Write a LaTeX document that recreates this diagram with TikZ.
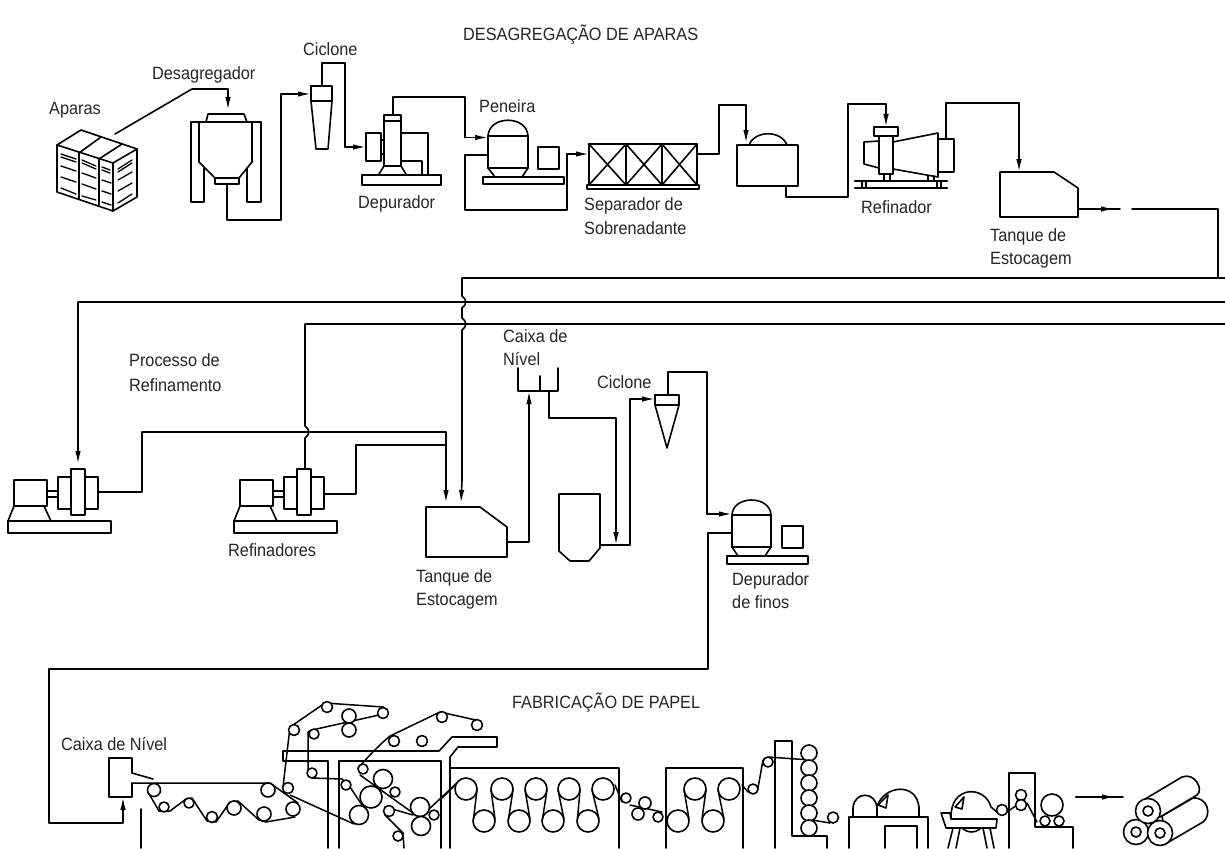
\documentclass[tikz,border=0pt]{standalone}
\usepackage{fontspec}
\setmainfont{Liberation Sans}
\usetikzlibrary{arrows.meta}
\tikzset{
  eq/.style={line width=1.6pt,line join=round,line cap=round},
  thin eq/.style={line width=1.3pt,line cap=round},
  pipe/.style={line width=1.6pt,line join=round,line cap=round},
  flow/.style={pipe,-{Latex[length=13pt,width=5.5pt]}},
  lbl/.style={anchor=base west,inner sep=0pt,font=\fontsize{17.8}{20}\selectfont,text=black!85,xscale=0.915,yshift=-0.7pt},
  rollc/.style={eq,draw,fill=white},
  wire/.style={line width=1.5pt,line join=round,line cap=round},
}
\newcommand{\roller}[3]{\draw[rollc] (#1,#2) circle (#3);}
\begin{document}
\begin{tikzpicture}[x=1pt,y=-1pt]
\useasboundingbox[fill=white] (0,0) rectangle (1225,848);

% ---------- labels ----------
\node[lbl] (t1) at (463,39.5) {DESAGREGAÇÃO DE APARAS};
\node[lbl] (t2) at (303,55) {Ciclone};
\node[lbl] (t3) at (152,79) {Desagregador};
\node[lbl] (t4) at (49,114) {Aparas};
\node[lbl] (t5) at (358,208) {Depurador};
\node[lbl] (t6) at (479,112) {Peneira};
\node[lbl] (t7) at (584,210) {Separador de};
\node[lbl] (t8) at (584,234) {Sobrenadante};
\node[lbl] (t9) at (861,213) {Refinador};
\node[lbl] (t10) at (990,241) {Tanque de};
\node[lbl] (t11) at (990,264) {Estocagem};
\node[lbl] (t12) at (129,366) {Processo de};
\node[lbl] (t13) at (129,391) {Refinamento};
\node[lbl] (t14) at (228,556) {Refinadores};
\node[lbl] (t15) at (416,582) {Tanque de};
\node[lbl] (t16) at (416,605) {Estocagem};
\node[lbl] (t17) at (503,342) {Caixa de};
\node[lbl] (t18) at (503,365) {Nível};
\node[lbl] (t19) at (597,388) {Ciclone};
\node[lbl] (t20) at (732,585) {Depurador};
\node[lbl] (t21) at (732,608) {de finos};
\node[lbl] (t22) at (61,750) {Caixa de Nível};
\node[lbl] (t23) at (512,708) {FABRICAÇÃO DE PAPEL};

% ---------- connector end points ----------
\coordinate (aparasOut) at (115,134);
\coordinate (desIn) at (228,110);
\coordinate (desOut) at (227,184);
\coordinate (cicIn) at (311,94);
\coordinate (cicOut) at (322,86);
\coordinate (depIn) at (366,147);
\coordinate (depOut) at (393,115);
\coordinate (penIn) at (488,137.5);
\coordinate (penOut) at (488,155);
\coordinate (sepIn) at (589,154);
\coordinate (sepOut) at (697,154);
\coordinate (tkIn) at (746,143);
\coordinate (tkOut) at (786,186);
\coordinate (refIn) at (886,127);
\coordinate (refOut) at (946,139);
\coordinate (tqIn) at (1019,172);
\coordinate (tqOut) at (1078,209);
\coordinate (tqTip) at (1114,209);
\coordinate (tqEnd) at (1120,209);
\coordinate (resume) at (1132,209);
\coordinate (busA) at (1218,278);
\coordinate (refAIn) at (78,464);
\coordinate (refAOut) at (98,492);
\coordinate (refBTop) at (305,469);
\coordinate (refBOut) at (324,494);
\coordinate (tq2InA) at (446,503);
\coordinate (tq2InB) at (461,503);
\coordinate (tq2Out) at (507,542);
\coordinate (cxIn) at (529,391);
\coordinate (cxOut) at (549,391);
\coordinate (bnIn) at (616,545);
\coordinate (bnOut) at (600,545);
\coordinate (cic2In) at (655,399);
\coordinate (cic2Out) at (668,395);
\coordinate (dfIn) at (732,514);
\coordinate (dfOut) at (732,533);
\coordinate (cnIn) at (123,797);
\coordinate (arrA) at (1076,797);
\coordinate (arrTip) at (1115,797);
\coordinate (arrB) at (1123,797);

% ---------- pipes ----------
\draw[pipe] (aparasOut) -- (192,89) -- (228,89);
\draw[flow] (228,89) -- (desIn);
\draw[pipe] (desOut) -- (227,220) -- (281,220) -- (281,94);
\draw[flow] (281,94) -- (cicIn);
\draw[pipe] (cicOut) -- (322,63) -- (345,63) -- (345,147);
\draw[flow] (345,147) -- (depIn);
\draw[pipe] (depOut) -- (393,97) -- (465,97) -- (465,137.5);
\draw[flow] (465,137.5) -- (penIn);
\draw[pipe] (penOut) -- (465,155) -- (465,210) -- (567,210) -- (567,154);
\draw[flow] (567,154) -- (sepIn);
\draw[pipe] (sepOut) -- (719,154) -- (719,105) -- (746,105);
\draw[flow] (746,105) -- (tkIn);
\draw[pipe] (tkOut) -- (786,197) -- (848,197) -- (848,104) -- (886,104);
\draw[flow] (886,104) -- (refIn);
\draw[pipe] (refOut) -- (946,103) -- (1019,103);
\draw[flow] (1019,103) -- (tqIn);
\draw[pipe] (tqOut) -- (tqEnd);
\draw[flow] (tqOut) -- (tqTip);
\draw[pipe] (resume) -- (1218,209) -- (busA);

\draw[line width=1.4pt] (462,278) -- (1225,278);
\draw[line width=1.4pt] (78,302) -- (1225,302);
\draw[line width=1.4pt] (305,324) -- (1225,324);
\draw[pipe] (78,302) -- (78,440);
\draw[flow] (78,440) -- (refAIn);
% vertical with hops
\draw[pipe] (462,278) -- (462,296) .. controls (467,299) and (467,305) .. (462,308) -- (462,318)
  .. controls (467,321) and (467,327) .. (462,330) -- (462,480);
\draw[flow] (462,480) -- (tq2InB);
\draw[pipe] (305,324) -- (305,426) .. controls (310,429) and (310,435) .. (305,438) -- (refBTop);
\draw[pipe] (refAOut) -- (142,492) -- (142,432) -- (446,432) -- (446,480);
\draw[flow] (446,480) -- (tq2InA);
\draw[pipe] (refBOut) -- (356,494) -- (356,445) -- (446,445);
\draw[pipe] (tq2Out) -- (529,542) -- (529,420);
\draw[flow] (529,420) -- (cxIn);
\draw[pipe] (cxOut) -- (549,418) -- (616,418) -- (616,520);
\draw[flow] (616,520) -- (bnIn);
\draw[pipe] (bnOut) -- (630,545) -- (630,399);
\draw[flow] (630,399) -- (cic2In);
\draw[pipe] (cic2Out) -- (668,372) -- (707,372) -- (707,514);
\draw[flow] (707,514) -- (dfIn);
\draw[pipe] (dfOut) -- (708,533) -- (708,669) -- (49,669) -- (49,823) -- (123,823) -- (123,810);
\draw[flow] (123,810) -- (cnIn);
\draw[pipe] (arrA) -- (arrB);
\draw[flow] (arrA) -- (arrTip);

% ---------- Aparas ----------
\draw[eq] (57,145) -- (81,130) -- (137,149) -- (113,163) -- cycle;
\draw[eq] (57,145) -- (57,192) -- (113,211) -- (137,197) -- (137,149);
\draw[eq] (113,163) -- (113,211);
\draw[eq] (79,153) -- (79,199) (99,159) -- (99,205);
\draw[eq] (79,153) -- (101,137) (99,159) -- (122,144);
\draw[thin eq] (61,154) -- (76,159) (61,157) -- (76,162) (61,166) -- (76,171) (61,177) -- (76,182) (61,188) -- (76,194);
\draw[thin eq] (82,160) -- (96,166) (82,163) -- (96,169) (82,173) -- (96,178) (82,184) -- (96,189) (82,196) -- (96,200);
\draw[thin eq] (102,167) -- (110,170) (102,170) -- (110,173) (102,180) -- (111,183) (102,191) -- (111,194) (102,202) -- (111,205);
\draw[thin eq] (118,169) -- (132,160) (118,172) -- (132,163) (118,180) -- (132,172) (118,191) -- (132,183) (118,203) -- (132,194);

% ---------- Desagregador ----------
\draw[eq] (199,162) -- (199,122) (252,122) -- (252,162);
\draw[eq] (204,168) -- (204,202) -- (191,202) -- (191,122) -- (261,122) -- (261,202) -- (247,202) -- (247,168);
\draw[eq] (199,162) -- (215,178) -- (239,178) -- (252,162);
\draw[eq] (206,122) -- (208,114) -- (244,114) -- (247,122);
\draw[eq] (215,178) rectangle (239,184);

% ---------- Ciclone ----------
\draw[eq] (311,86) rectangle (332,101);
\draw[eq] (311,101) -- (316,149) -- (328,149) -- (332,101);

% ---------- Depurador ----------
\draw[eq] (366,133) rectangle (381,161);
\draw[eq] (381,140) -- (384,140) (381,154) -- (384,154);
\draw[eq] (384,115) rectangle (401,166);
\draw[eq] (384,121) -- (401,121);
\draw[eq] (362,175) rectangle (441,185);
\draw[eq] (384,166) -- (379,174) (401,166) -- (406,174);
\draw[eq] (401,133) -- (428,133) -- (428,175) (401,161) -- (422,161) -- (422,175);

% ---------- Peneira ----------
\draw[eq] (488,168) -- (488,136) .. controls (489,115) and (527,115) .. (528,136) -- (528,168);
\draw[eq] (488,136) -- (528,136) (488,168) -- (528,168);
\draw[eq] (488,168) -- (495,177) (528,168) -- (522,177);
\draw[eq] (483,177) rectangle (564,184);
\draw[eq] (538,147) rectangle (559,169);

% ---------- Separador ----------
\draw[eq] (589,144) rectangle (697,185);
\draw[eq] (626,144) -- (626,185) (662,144) -- (662,185);
\draw[eq] (589,144) -- (626,185) (626,144) -- (589,185);
\draw[eq] (626,144) -- (662,185) (662,144) -- (626,185);
\draw[eq] (662,144) -- (697,185) (697,144) -- (662,185);
\draw[eq] (587,185) rectangle (699,189);

% ---------- Tanque intermedio ----------
\draw[eq] (737,145) rectangle (798,186);
\draw[eq] (749,145) .. controls (755,130) and (781,130) .. (787,145);

% ---------- Refinador ----------
\draw[eq] (874,127) rectangle (898,136);
\draw[eq] (879,136) rectangle (893,174);
\draw[eq] (879,141) -- (864,142) -- (864,164) -- (879,168);
\draw[eq] (893,142) -- (938,133) -- (938,177) -- (893,169);
\draw[eq] (938,139) rectangle (954,172);
\draw[eq] (884,174) -- (884,181) (890,174) -- (890,181);
\draw[eq] (928,176) -- (928,181) (934,176) -- (934,181);
\draw[line width=2.6pt,line cap=round] (855,181) -- (947,181) (855,188) -- (947,188);
\draw[thin eq] (862,181) -- (862,188) (866,181) -- (866,188) (937,181) -- (937,188) (941,181) -- (941,188);

% ---------- Tanque de estocagem ----------
\draw[eq] (1000,172) -- (1054,172) -- (1078,188) -- (1078,217) -- (1000,217) -- cycle;

% ---------- Refinadores ----------
\draw[eq] (14,480) rectangle (47,506);
\draw[eq] (14,506) -- (8,521) (44,506) -- (51,521);
\draw[eq] (8,521) rectangle (111,533);
\draw[eq] (47,491) -- (58,491) (47,497) -- (58,497);
\draw[eq] (58,477) rectangle (98,509);
\draw[eq,fill=white] (71,469) rectangle (85,515);
\draw[eq] (240,480) rectangle (273,506);
\draw[eq] (240,506) -- (234,521) (270,506) -- (277,521);
\draw[eq] (234,521) rectangle (337,533);
\draw[eq] (273,491) -- (284,491) (273,497) -- (284,497);
\draw[eq] (284,477) rectangle (324,509);
\draw[eq,fill=white] (297,469) rectangle (311,515);

% ---------- Tanque 2 ----------
\draw[eq] (426,507) -- (480,507) -- (507,527) -- (507,557) -- (426,557) -- cycle;

% ---------- Caixa de Nivel 1 ----------
\draw[eq] (518,368) -- (518,391) -- (558,391) -- (558,368);
\draw[eq] (540,376) -- (540,391);

% ---------- Tanque pequeno ----------
\draw[eq] (559,551) -- (559,494) -- (600,494) -- (600,548) -- (589,561) -- (570,561) -- cycle;

% ---------- Ciclone 2 ----------
\draw[eq] (655,395) rectangle (679,405);
\draw[eq] (655,405) -- (667,448) -- (679,405);

% ---------- Depurador de finos ----------
\draw[eq] (732,547) -- (732,515) .. controls (733,495) and (770,495) .. (771,515) -- (771,547);
\draw[eq] (732,515) -- (771,515) (732,547) -- (771,547);
\draw[eq] (732,547) -- (738,556) (771,547) -- (765,556);
\draw[eq] (727,556) rectangle (808,564);
\draw[eq] (782,526) rectangle (803,548);

% ---------- Caixa de Nivel 2 ----------
\draw[eq] (132,773) -- (132,758) -- (109,758) -- (109,797) -- (132,797) -- (132,783);
\draw[eq] (132,773) -- (153,779);
\draw[wire] (132,783) -- (270,783) -- (298,803);
\draw[eq] (141,809) -- (141,848);

% ---------- Formacao ----------
\draw[wire] (148,792) -- (159,811) -- (170,811) -- (186,799) -- (192,798) -- (207,821) -- (216,822) -- (230,802)
  -- (238,801) -- (259,820) -- (266,822) -- (295,817);
\draw[wire] (283,787) -- (290,727) -- (325,703) -- (383,707) -- (388,713) -- (312,730) -- (308,732) -- (308,773)
  -- (312,778) -- (342,779) -- (350,787) -- (362,805);
\draw[wire] (290,795) -- (354,824);
\draw[wire] (358,768) .. controls (368,757) and (378,746) .. (390,736) -- (440,712) -- (480,721);
\draw[wire] (360,775) -- (413,813);
\draw[wire] (385,807) -- (413,815);
\draw[wire] (385,815) -- (403,833) -- (404,848);
\draw[wire] (428,810) -- (458,782);
\draw[wire] (440,800) -- (457,783);

% ---------- Molduras ----------
\draw[eq] (328,848) -- (328,761) -- (283,761) -- (283,751) -- (439,751) -- (452,737) -- (497,737) -- (497,747) -- (458,747) -- (450,757) -- (450,848);
\draw[eq] (339,848) -- (339,761) -- (441,761) -- (441,848);
\draw[eq] (450,768) -- (619,768) -- (619,848);
\draw[eq] (666,848) -- (666,768) -- (743,768) -- (743,848);
\draw[eq] (775,848) -- (775,741) -- (792,741) -- (792,836) -- (827,836) -- (827,848);

% ---------- Rolos ----------
\foreach \x/\y/\r in {154/790/6.5,164/807/5,189/803/5,212/817/5.5,234/808/7,264/814/7,293/809/7,268/790/7,
  288/788/5.5,294/730/5.5,327/707/5.5,349/716/7,383/713/5.5,314/734/5,349/730/7,312/773/5,
  394/741/5.5,422/741/5.5,442/717/5.5,477/725/5.5,363/769/5,383/779/9.5,371/797/11,395/792/5,
  346/785/5,359/815/9.5,389/811/5.5,420/807/9.5,421/826/9.5,434/815/5,398/836/5}
  {\roller{\x}{\y}{\r}}

% ---------- Secadores ----------
\foreach \x in {466,502,536,569,603}{\roller{\x}{789}{11}}
\foreach \x in {484,519,553,588}{\roller{\x}{821}{11}}
\draw[wire] (477,790) -- (473.5,819) (495,819) -- (491,790)
  (513,790) -- (508.5,819) (530,819) -- (525,790)
  (547,790) -- (542.5,819) (564,819) -- (558,790)
  (580,790) -- (577.5,819) (599,819) -- (592,790);

\draw[wire] (615,785) -- (622,802);
\draw[wire] (630,805) -- (662,812);
\roller{626}{798}{5}
\roller{645}{803}{6}
\roller{638}{814}{6}
\roller{658}{817}{5}

\foreach \x in {695,729}{\roller{\x}{789}{11}}
\foreach \x in {678,713}{\roller{\x}{821}{11}}
\draw[wire] (684,790) -- (689,819) (706,790) -- (702,819) (724,819) -- (718,790);

\draw[wire] (742,785) -- (748,792) (758,788) -- (763,760) (768,757) -- (810,760) (812,820) -- (830,823);
\roller{753}{789}{5}
\roller{768}{762}{5}
\foreach \y in {753,768,783,798,813,828}{\roller{809}{\y}{8}}
\roller{833}{817.5}{5.5}

% ---------- Calandra / enroladeira ----------
\draw[eq] (849,848) -- (849,817) -- (928,817) -- (928,848);
\draw[eq] (885,848) -- (885,826) -- (917,826) -- (917,848);
\draw[eq] (853,817) -- (853,808) .. controls (854,791) and (876,791) .. (877,808) -- (877,817);
\draw[eq] (877,806) .. controls (885,785) and (916,782) .. (919,807) -- (919,817);
\draw[eq] (878,805) -- (888,795) -- (886,808) -- cycle;

\draw[eq] (951,818) .. controls (950,785) and (985,785) .. (991,807) -- (998,813);
\draw[eq] (955,807) -- (964,797) -- (962,809) -- cycle;
\draw[eq] (941,813) -- (950,813) -- (951,819) -- (997,819) -- (996,828) -- (946,828) -- cycle;
\draw[eq] (953,828) -- (948,848) (960,828) -- (956,848) (983,828) -- (987,848) (990,828) -- (994,848);
\draw[eq] (963,829) .. controls (968,833) and (975,833) .. (980,829);
\draw[eq] (1009,848) -- (1009,773) -- (1035,773) -- (1035,827) -- (1073,827) -- (1073,848);
\draw[wire] (1007,812) -- (1017,805) (1027,803) -- (1037,822);
\roller{1002}{810}{5.5}
\roller{1021}{795}{5.5}
\roller{1021}{805}{5.5}
\roller{1052}{805}{11}
\roller{1045}{821}{5}
\roller{1059}{821}{5}

% ---------- Bobinas ----------
\draw[rollc] (1167,843) -- (1203,822) .. controls (1212,815) and (1208,797) .. (1193,798) -- (1162,816) -- cycle;
\draw[rollc] (1145,799) -- (1182,777) .. controls (1195,772) and (1204,790) .. (1197,795) -- (1160,817) -- cycle;
\roller{1136}{832}{12.5}
\roller{1136}{832}{5}
\roller{1160}{833}{12.5}
\roller{1160}{833}{5}
\roller{1148}{811}{12.5}
\roller{1148}{811}{5}
\end{tikzpicture}
\end{document}
